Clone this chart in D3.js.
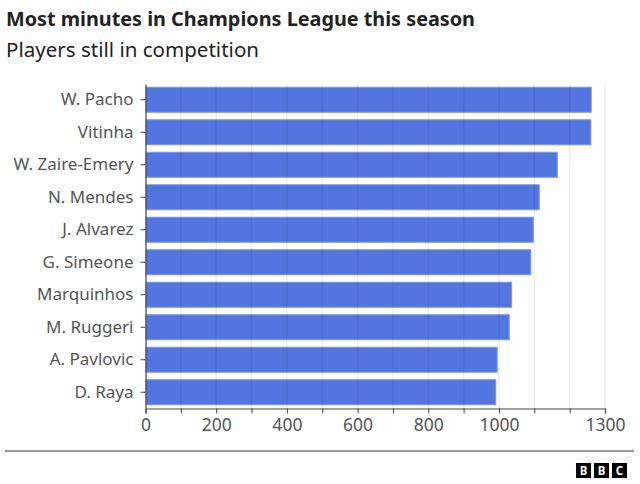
<!DOCTYPE html>
<html>
<head>
<meta charset="utf-8">
<script src="https://cdn.jsdelivr.net/npm/d3@7"></script>
<style>
  body { margin: 0; background: #fff; font-family: "Noto Sans", sans-serif; }
  svg { display: block; }
</style>
</head>
<body>
<div id="chart"></div>
<script>
// Chart data
const players = ["W. Pacho", "Vitinha", "W. Zaire-Emery", "N. Mendes", "J. Alvarez",
    "G. Simeone", "Marquinhos", "M. Ruggeri", "A. Pavlovic", "D. Raya"];
const minutes = [1261, 1260, 1165, 1114, 1097, 1090, 1036, 1029, 995, 991];
const tickValues = [0, 100, 200, 300, 400, 500, 600, 700, 800, 900, 1000, 1100, 1200, 1300];
const tickLabels = [0, 200, 400, 600, 800, 1000, 1300];

const width = 640, height = 484;
const data = players.map((p, i) => ({ player: p, value: minutes[i] }));

const svg = d3.select("#chart").append("svg")
    .attr("width", width)
    .attr("height", height);

// Title and subtitle
svg.append("text")
    .attr("x", 6).attr("y", 26)
    .attr("font-size", "20px")
    .attr("font-weight", "bold")
    .attr("fill", "#222")
    .attr("textLength", 469)
    .attr("lengthAdjust", "spacingAndGlyphs")
    .text("Most minutes in Champions League this season");

svg.append("text")
    .attr("x", 6).attr("y", 57)
    .attr("font-size", "20px")
    .attr("fill", "#222")
    .attr("textLength", 253)
    .attr("lengthAdjust", "spacingAndGlyphs")
    .text("Players still in competition");

// Scales
const x = d3.scaleLinear()
    .domain([0, 1300])
    .range([145.5, 605]);

const y = d3.scaleBand()
    .domain(players)
    .range([84, 408])
    .paddingInner(0.23)
    .paddingOuter(0.1);

// Bars
svg.selectAll(".bar")
    .data(data)
    .enter().append("rect")
    .attr("class", "bar")
    .attr("fill", "#5275df")
    .attr("stroke", "#7d97e8")
    .attr("stroke-width", 1)
    .attr("x", x(0) + 0.5)
    .attr("y", d => y(d.player))
    .attr("width", d => x(d.value) - x(0) - 0.5)
    .attr("height", y.bandwidth());

// Gridlines (drawn over bars, faint)
svg.selectAll(".grid")
    .data(tickValues.slice(1))
    .enter().append("line")
    .attr("class", "grid")
    .attr("x1", d => x(d)).attr("x2", d => x(d))
    .attr("y1", 84).attr("y2", 408)
    .attr("stroke", "#000")
    .attr("stroke-opacity", 0.07)
    .attr("stroke-width", 1.5);

// X axis
const xAxis = svg.append("g")
    .attr("transform", "translate(0,408.5)")
    .call(d3.axisBottom(x)
        .tickValues(tickValues)
        .tickSize(5)
        .tickFormat(d => tickLabels.includes(d) ? d : ""));

xAxis.select(".domain").attr("stroke", "#444").attr("stroke-width", 1.2);
xAxis.selectAll(".tick line").attr("stroke", "#444");
xAxis.selectAll(".tick text")
    .attr("font-family", "Noto Sans, sans-serif")
    .attr("font-size", "17.5px")
    .attr("fill", "#555")
    .attr("dy", "0.82em");

// Y axis
const yAxis = svg.append("g")
    .attr("transform", `translate(${x(0)},0)`)
    .call(d3.axisLeft(y).tickSize(5).tickSizeOuter(0));

yAxis.select(".domain").attr("stroke", "#444").attr("stroke-width", 1.2);
yAxis.selectAll(".tick line").attr("stroke", "#444");
yAxis.selectAll(".tick text")
    .attr("font-family", "Noto Sans, sans-serif")
    .attr("font-size", "17px")
    .attr("fill", "#555")
    .attr("x", -12);

// Footer rule
svg.append("line")
    .attr("x1", 5).attr("x2", 634)
    .attr("y1", 451).attr("y2", 451)
    .attr("stroke", "#999")
    .attr("stroke-width", 2);

// BBC logo blocks
const logo = svg.append("g").attr("transform", "translate(576,463)");
["B", "B", "C"].forEach((letter, i) => {
    logo.append("rect")
        .attr("x", i * 18).attr("y", 0)
        .attr("width", 15).attr("height", 15)
        .attr("fill", "#000");
    logo.append("text")
        .attr("x", i * 18 + 7.5).attr("y", 12)
        .attr("text-anchor", "middle")
        .attr("font-size", "11.5px")
        .attr("font-weight", "bold")
        .attr("fill", "#fff")
        .text(letter);
});
</script>
</body>
</html>
